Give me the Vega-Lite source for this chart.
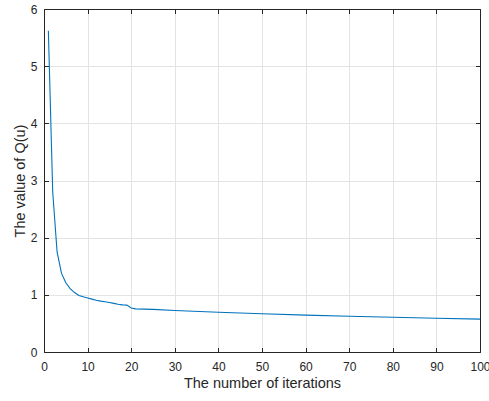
{
  "$schema": "https://vega.github.io/schema/vega-lite/v6.json",
  "width": 436,
  "height": 343,
  "autosize": "none",
  "padding": {"left": 44, "top": 9, "right": 9, "bottom": 49},
  "background": "white",
  "config": {
    "font": "Liberation Sans",
    "view": {"stroke": "#262626", "strokeWidth": 1},
    "axis": {
      "labelFont": "Liberation Sans",
      "titleFont": "Liberation Sans",
      "labelFontSize": 12,
      "titleFontSize": 14.5,
      "labelColor": "#262626",
      "titleColor": "#262626",
      "titleFontWeight": "normal",
      "domainColor": "#262626",
      "tickColor": "#262626",
      "gridColor": "#e3e3e3",
      "gridWidth": 1,
      "labelFlush": false
    }
  },
  "data": {
    "values": [
      {"it": 1, "q": 5.62}, {"it": 2, "q": 2.8}, {"it": 3, "q": 1.75}, {"it": 4, "q": 1.38},
      {"it": 5, "q": 1.21}, {"it": 6, "q": 1.11}, {"it": 7, "q": 1.04}, {"it": 8, "q": 0.99},
      {"it": 9, "q": 0.965}, {"it": 10, "q": 0.945}, {"it": 11, "q": 0.925}, {"it": 12, "q": 0.905},
      {"it": 13, "q": 0.89}, {"it": 14, "q": 0.88}, {"it": 15, "q": 0.865}, {"it": 16, "q": 0.85},
      {"it": 17, "q": 0.835}, {"it": 18, "q": 0.825}, {"it": 19, "q": 0.82}, {"it": 20, "q": 0.77},
      {"it": 21, "q": 0.755}, {"it": 25, "q": 0.745}, {"it": 30, "q": 0.725}, {"it": 40, "q": 0.695},
      {"it": 50, "q": 0.67}, {"it": 60, "q": 0.645}, {"it": 70, "q": 0.625}, {"it": 80, "q": 0.607},
      {"it": 90, "q": 0.59}, {"it": 100, "q": 0.575}
    ]
  },
  "layer": [
    {
      "mark": {"type": "line", "color": "#0072BD", "strokeWidth": 1.1},
      "encoding": {
        "x": {"field": "it", "type": "quantitative", "scale": {"domain": [0, 100], "nice": false},
          "axis": {"orient": "bottom", "values": [0,10,20,30,40,50,60,70,80,90,100], "tickSize": -4.5, "labelPadding": 13.5, "title": "The number of iterations", "titlePadding": 4, "grid": true}},
        "y": {"field": "q", "type": "quantitative", "scale": {"domain": [0, 6], "nice": false},
          "axis": {"orient": "left", "values": [0,1,2,3,4,5,6], "tickSize": -4.5, "labelPadding": 11.5, "title": "The value of Q(u)", "titlePadding": 3, "grid": true}}
      }
    },
    {
      "mark": {"type": "line", "opacity": 0},
      "encoding": {
        "x": {"field": "it", "type": "quantitative", "scale": {"domain": [0, 100], "nice": false},
          "axis": {"orient": "top", "values": [0,10,20,30,40,50,60,70,80,90,100], "tickSize": -4.5, "labels": false, "title": null, "grid": false}},
        "y": {"field": "q", "type": "quantitative", "scale": {"domain": [0, 6], "nice": false},
          "axis": {"orient": "right", "values": [0,1,2,3,4,5,6], "tickSize": -4.5, "labels": false, "title": null, "grid": false}}
      }
    }
  ],
  "resolve": {"axis": {"x": "independent", "y": "independent"}}
}
